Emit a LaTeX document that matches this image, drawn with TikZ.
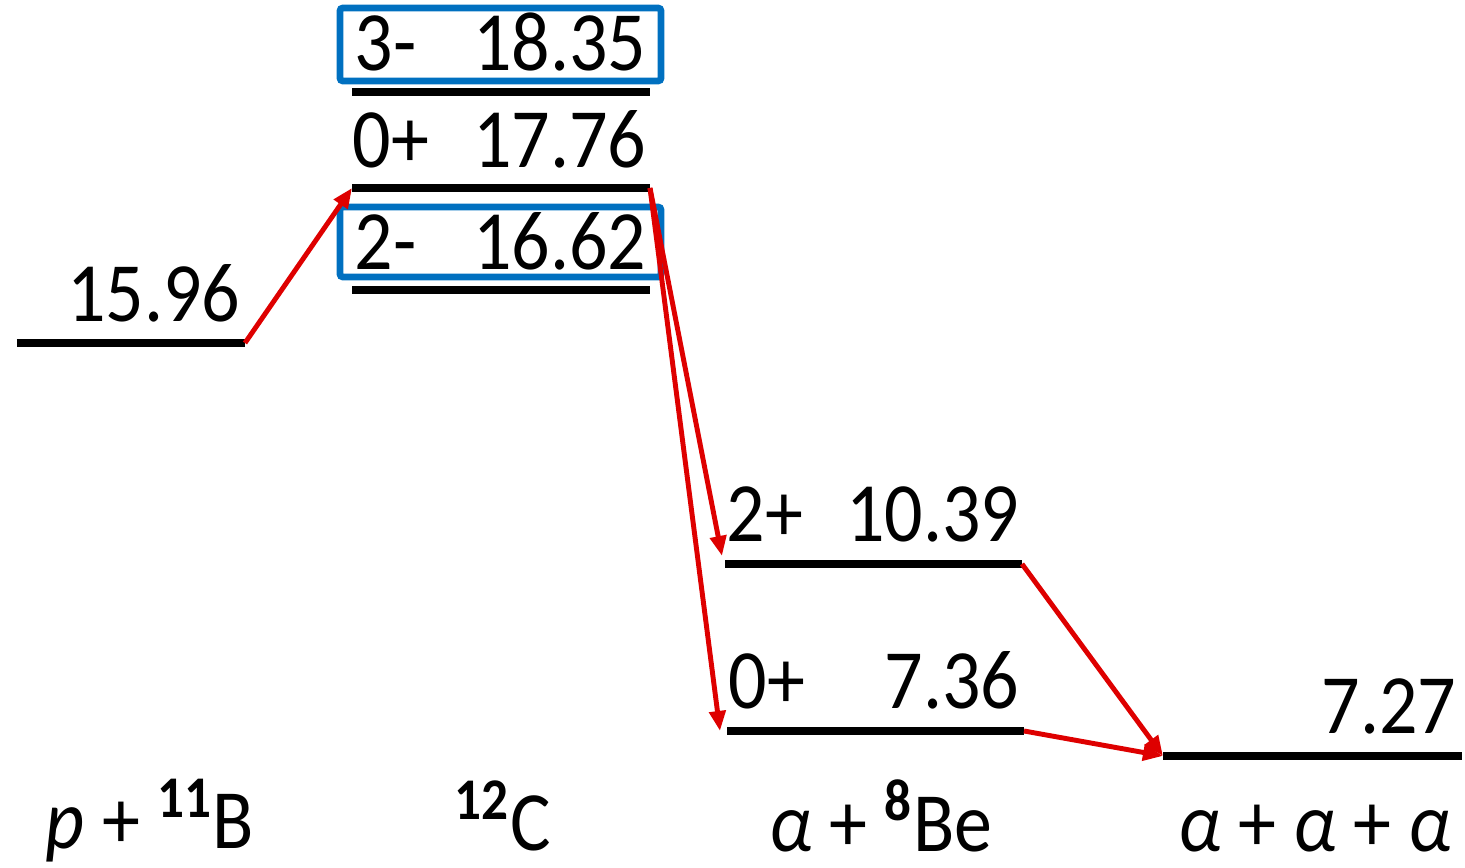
\documentclass[tikz,border=0pt]{standalone}
\usepackage{xcolor}
\usepackage{fontspec}
\setmainfont{Carlito}[FakeStretch=0.9]
\usepackage{tikz}
\usetikzlibrary{arrows.meta}

\definecolor{decayred}{RGB}{222,0,0}
\definecolor{selblue}{RGB}{0,112,192}

\tikzset{
  level/.style={line width=2.3pt},
  decay/.style={decayred, line width=1.4pt, -{Triangle[length=0.2cm,width=0.16cm]}},
  selbox/.style={selblue, line width=1.9pt, rounded corners=0.8pt},
  lbl/.style={inner sep=0pt, font=\fontsize{24}{28}\selectfont},
}

\begin{document}
\begin{tikzpicture}[x=0.01cm, y=-0.01cm]
\useasboundingbox (0,0) rectangle (1465,868);

% levels
\coordinate (pB-l) at (17,343);   \coordinate (pB-r) at (245,343);
\coordinate (c3-l) at (352,92);   \coordinate (c3-r) at (650,92);
\coordinate (c0-l) at (352,188);  \coordinate (c0-r) at (650,188);
\coordinate (c2-l) at (352,290);  \coordinate (c2-r) at (650,290);
\coordinate (be2-l) at (725,564); \coordinate (be2-r) at (1022,564);
\coordinate (be0-l) at (727,731); \coordinate (be0-r) at (1024,731);
\coordinate (aaa-l) at (1163,756); \coordinate (aaa-r) at (1462,756);

\draw[level] (pB-l) -- (pB-r);
\draw[level] (c3-l) -- (c3-r);
\draw[level] (c0-l) -- (c0-r);
\draw[level] (c2-l) -- (c2-r);
\draw[level] (be2-l) -- (be2-r);
\draw[level] (be0-l) -- (be0-r);
\draw[level] (aaa-l) -- (aaa-r);

\node[lbl, anchor=base east] (e1596) at (241,322) {15.96};
\node[lbl, anchor=base west] (j3m) at (354,71) {3-};
\node[lbl, anchor=base east] (e1835) at (647,71) {18.35};
\node[lbl, anchor=base west] (j0p) at (352,168) {0+};
\node[lbl, anchor=base east] (e1776) at (647,168) {17.76};
\node[lbl, anchor=base west] (j2m) at (354,270) {2-};
\node[lbl, anchor=base east] (e1662) at (647,270) {16.62};
\node[lbl, anchor=base west] (j2p) at (726,542) {2+};
\node[lbl, anchor=base east] (e1039) at (1020,542) {10.39};
\node[lbl, anchor=base west] (j0pb) at (728,709) {0+};
\node[lbl, anchor=base east] (e736) at (1020,709) {7.36};
\node[lbl, anchor=base east] (e727) at (1457,734) {7.27};

% boxes
\draw[selbox] (340,8) rectangle (661,81);
\draw[selbox] (340,207) rectangle (661,277);

% channels
\node[lbl, anchor=base] (ch-pB) at (150,849) {\textit{p} + \textsuperscript{\textbf{11}}B};
\node[lbl, anchor=base] (ch-C) at (503,851) {\textsuperscript{\textbf{12}}C};
\node[lbl, anchor=base] (ch-aBe) at (881,852) {\textit{α} + \textsuperscript{\textbf{8}}Be};
\node[lbl, anchor=base] (ch-aaa) at (1315,852) {\textit{α} + \textit{α} + \textit{α}};

% decays
\draw[decay] (pB-r) -- (c0-l);
\draw[decay] (c0-r) -- (722,556);
\draw[decay] (c0-r) -- (720,731);
\draw[decay] (be2-r) -- (aaa-l);
\draw[decay] (be0-r) -- (aaa-l);
\end{tikzpicture}
\end{document}
